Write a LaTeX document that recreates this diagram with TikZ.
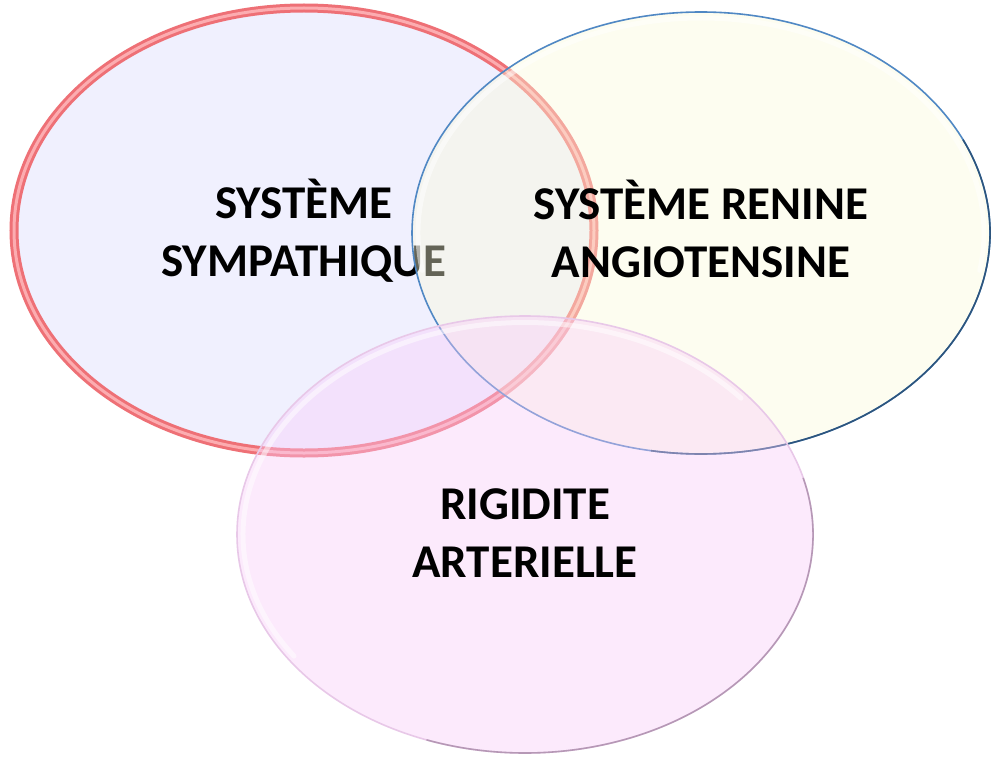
\documentclass[tikz,border=0pt]{standalone}
\usepackage{fontspec}
\setmainfont{Carlito}
\usetikzlibrary{shapes.geometric}
\definecolor{lavfill}{RGB}{240,240,254}
\definecolor{redtube}{RGB}{238,112,118}
\definecolor{redlight}{RGB}{252,172,176}
\definecolor{yelfill}{RGB}{252,252,218}
\definecolor{bluestroke}{RGB}{80,136,196}
\definecolor{bluedark}{RGB}{45,85,125}
\definecolor{pinkfill}{RGB}{249,203,249}
\definecolor{pinkedge}{RGB}{232,200,232}
\definecolor{pinkshadow}{RGB}{150,120,150}
\begin{document}
\begin{tikzpicture}[x=1pt,y=-1pt,
  venn/.style={ellipse, inner sep=0pt, outer sep=0pt, align=center,
    font=\fontsize{47}{58}\selectfont\bfseries, text=black},
  glassy/.style={fill opacity=0.4, text opacity=1},
  innerglow/.style={white, opacity=0.5, line width=5pt, line cap=round},
]
\useasboundingbox (0,0) rectangle (992,757);
\fill[white] (0,0) rectangle (992,757);
% left ellipse
\node[venn, minimum width=580pt, minimum height=445pt, fill=lavfill,
  draw=redtube, line width=3pt, double=redlight, double distance=3pt]
  (sympa) at (304,230.5) {SYSTÈME\\SYMPATHIQUE};
% right ellipse
\node[venn, glassy, minimum width=578pt, minimum height=442pt, fill=yelfill,
  draw=bluestroke, line width=1.6pt]
  (renine) at (701,233) {};
\node[venn] (reninetext) at (701,229) {SYSTÈME RENINE\\ANGIOTENSINE};
\draw[innerglow] (renine.center) ++(170:283 and 215)
  arc[start angle=170, end angle=370, x radius=283, y radius=215];
\draw[bluedark, line width=1.6pt] (renine.center) ++(-25:289 and 221)
  arc[start angle=-25, end angle=100, x radius=289, y radius=221];
% bottom ellipse
\node[venn, glassy, minimum width=576pt, minimum height=437pt, fill=pinkfill,
  draw=pinkedge, line width=1.6pt]
  (rigid) at (525,534.5) {};
\node[venn] (rigidtext) at (525,533) {RIGIDITE\\ARTERIELLE};
\draw[innerglow] (rigid.center) ++(145:282 and 212)
  arc[start angle=145, end angle=320, x radius=282, y radius=212];
\draw[pinkshadow, opacity=0.6, line width=1.6pt] (rigid.center) ++(-15:288 and 218.5)
  arc[start angle=-15, end angle=110, x radius=288, y radius=218.5];
\end{tikzpicture}
\end{document}
